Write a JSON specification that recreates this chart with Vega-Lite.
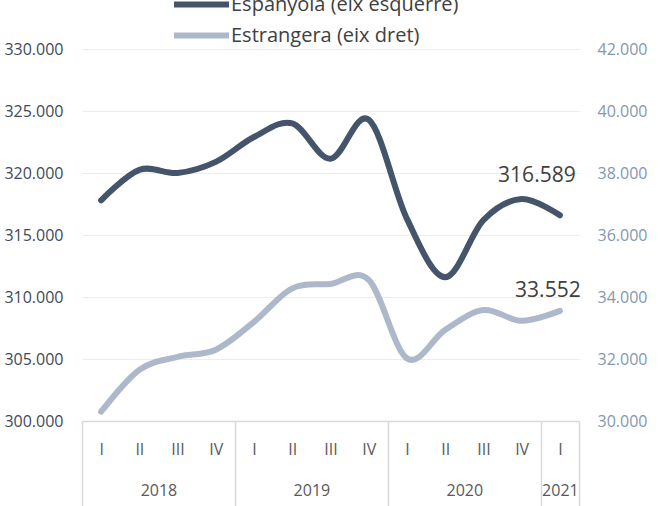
{
  "$schema": "https://vega.github.io/schema/vega-lite/v6.json",
  "width": 497,
  "height": 372,
  "autosize": {"type": "none"},
  "padding": {"left": 82, "top": 49, "right": 90, "bottom": 85},
  "background": "white",
  "config": {
    "font": "Open Sans",
    "view": {"stroke": null},
    "locale": {"number": {"decimal": ",", "thousands": ".", "grouping": [3], "currency": ["", " €"]}}
  },
  "data": {
    "values": [
      {"idx": 0, "pos": 0.5, "q": "I", "esp": 317800, "est": 30300},
      {"idx": 1, "pos": 1.5, "q": "II", "esp": 320250, "est": 31650},
      {"idx": 2, "pos": 2.5, "q": "III", "esp": 320000, "est": 32070},
      {"idx": 3, "pos": 3.5, "q": "IV", "esp": 320900, "est": 32300},
      {"idx": 4, "pos": 4.5, "q": "I", "esp": 322900, "est": 33200},
      {"idx": 5, "pos": 5.5, "q": "II", "esp": 324000, "est": 34280},
      {"idx": 6, "pos": 6.5, "q": "III", "esp": 321150, "est": 34420},
      {"idx": 7, "pos": 7.5, "q": "IV", "esp": 324300, "est": 34550},
      {"idx": 8, "pos": 8.5, "q": "I", "esp": 316300, "est": 32020},
      {"idx": 9, "pos": 9.5, "q": "II", "esp": 311600, "est": 32940},
      {"idx": 10, "pos": 10.5, "q": "III", "esp": 316200, "est": 33580},
      {"idx": 11, "pos": 11.5, "q": "IV", "esp": 317900, "est": 33230},
      {"idx": 12, "pos": 12.5, "q": "I", "esp": 316589, "est": 33552}
    ]
  },
  "resolve": {
    "scale": {"x": "shared", "y": "independent"},
    "axis": {"x": "independent", "y": "independent"}
  },
  "layer": [
    {
      "resolve": {"axis": {"x": "independent"}},
      "layer": [
        {
          "mark": {"type": "line", "interpolate": "cardinal", "tension": 0, "strokeWidth": 6, "strokeCap": "round", "strokeJoin": "round"},
          "encoding": {
            "x": {
              "field": "pos", "type": "quantitative",
              "scale": {"domain": [0, 13], "nice": false, "zero": false},
              "axis": {
                "orient": "bottom", "title": null,
                "values": [0.5, 1.5, 2.5, 3.5, 4.5, 5.5, 6.5, 7.5, 8.5, 9.5, 10.5, 11.5, 12.5],
                "labelExpr": "['I','II','III','IV'][floor(datum.value) % 4]",
                "ticks": false, "grid": false, "domain": true, "domainColor": "#D9D9D9", "domainWidth": 1.5,
                "labelPadding": 28, "labelBaseline": "middle", "labelFontSize": 16, "labelColor": "#595959",
                "labelFlush": false, "labelOverlap": false, "labelBound": false
              }
            },
            "y": {
              "field": "esp", "type": "quantitative",
              "scale": {"domain": [300000, 330000], "nice": false, "zero": false},
              "axis": {
                "orient": "left", "title": null,
                "values": [300000, 305000, 310000, 315000, 320000, 325000, 330000],
                "format": ",.0f", "grid": true, "gridColor": "#EDEDED", "gridWidth": 1.2,
                "domain": false, "ticks": false, "labelPadding": 19, "labelFontSize": 16, "labelColor": "#404A5A"
              }
            },
            "color": {
              "datum": "Espanyola (eix esquerre)", "type": "nominal",
              "scale": {"domain": ["Espanyola (eix esquerre)", "Estrangera (eix dret)"], "range": ["#44546A", "#ADB9CA"]},
              "legend": {
                "orient": "none", "legendX": 89, "legendY": -55, "title": null, "direction": "vertical",
                "symbolType": "stroke", "symbolStrokeWidth": 6, "symbolSize": 3025, "clipHeight": 21,
                "labelFontSize": 20, "labelColor": "#404040", "labelOffset": -1, "rowPadding": 10, "labelLimit": 400
              }
            }
          }
        },
        {
          "transform": [{"filter": "datum.idx == 12"}],
          "mark": {"type": "text", "dx": -23, "dy": -39, "fontSize": 21, "color": "#404040"},
          "encoding": {
            "x": {
              "field": "pos", "type": "quantitative",
              "axis": {
                "orient": "bottom", "title": null,
                "values": [2, 6, 10, 12.5],
                "labelExpr": "datum.value < 4 ? '2018' : datum.value < 8 ? '2019' : datum.value < 12 ? '2020' : '2021'",
                "ticks": false, "grid": false, "domain": false,
                "labelPadding": 69, "labelBaseline": "middle", "labelFontSize": 16, "labelColor": "#595959",
                "labelFlush": false, "labelOverlap": false, "labelBound": false
              }
            },
            "y": {"field": "esp", "type": "quantitative"},
            "text": {"field": "esp", "type": "quantitative", "format": ",.0f"}
          }
        }
      ]
    },
    {
      "resolve": {"axis": {"x": "independent"}},
      "layer": [
        {
          "mark": {"type": "line", "interpolate": "cardinal", "tension": 0, "strokeWidth": 6, "strokeCap": "round", "strokeJoin": "round"},
          "encoding": {
            "x": {
              "field": "pos", "type": "quantitative",
              "axis": {
                "orient": "bottom", "title": null,
                "values": [0, 4, 8, 12, 13],
                "labels": false, "ticks": true, "tickSize": 85, "tickColor": "#D9D9D9", "tickWidth": 1.5,
                "domain": false, "grid": false
              }
            },
            "y": {
              "field": "est", "type": "quantitative",
              "scale": {"domain": [30000, 42000], "nice": false, "zero": false},
              "axis": {
                "orient": "right", "title": null,
                "values": [30000, 32000, 34000, 36000, 38000, 40000, 42000],
                "format": ",.0f", "grid": false, "domain": false, "ticks": false,
                "labelPadding": 18, "labelFontSize": 16, "labelColor": "#8497B0"
              }
            },
            "color": {"datum": "Estrangera (eix dret)", "type": "nominal"}
          }
        },
        {
          "transform": [{"filter": "datum.idx == 12"}],
          "mark": {"type": "text", "dx": -12, "dy": -20, "fontSize": 21, "color": "#404040"},
          "encoding": {
            "x": {"field": "pos", "type": "quantitative", "axis": null},
            "y": {"field": "est", "type": "quantitative"},
            "text": {"field": "est", "type": "quantitative", "format": ",.0f"}
          }
        }
      ]
    }
  ]
}
